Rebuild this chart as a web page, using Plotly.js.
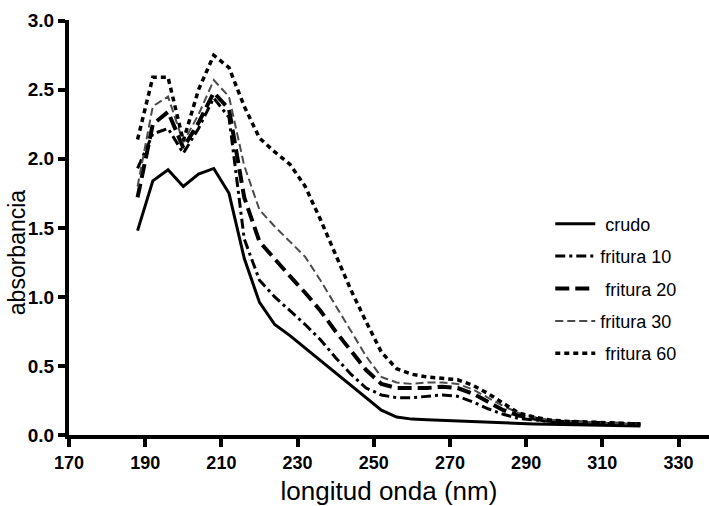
<!DOCTYPE html>
<html>
<head>
<meta charset="utf-8">
<script src="https://cdn.plot.ly/plotly-3.0.1.min.js"></script>
<style>html,body{margin:0;padding:0;background:#fff;}#chart{width:709px;height:506px;}</style>
</head>
<body>
<div id="chart"></div>
<script>
var wavelength = [188,192,196,200,204,208,212,216,220,224,228,232,236,240,244,248,252,256,260,264,268,272,276,280,284,288,292,296,300,304,308,312,316,320];
var crudo    = [1.48,1.84,1.92,1.80,1.89,1.93,1.75,1.28,0.96,0.80,0.72,0.63,0.54,0.45,0.36,0.27,0.18,0.13,0.115,0.11,0.105,0.10,0.10,0.095,0.09,0.085,0.08,0.078,0.075,0.073,0.07,0.068,0.066,0.065];
var fritura10 = [1.93,2.18,2.22,2.04,2.22,2.44,2.30,1.42,1.12,1.00,0.90,0.80,0.69,0.56,0.44,0.34,0.29,0.27,0.27,0.28,0.29,0.28,0.24,0.19,0.15,0.12,0.11,0.10,0.09,0.09,0.085,0.08,0.08,0.075];
var fritura20 = [1.72,2.25,2.34,2.08,2.26,2.48,2.36,1.72,1.40,1.27,1.15,1.03,0.90,0.75,0.61,0.47,0.37,0.34,0.34,0.34,0.35,0.34,0.30,0.24,0.18,0.14,0.12,0.10,0.095,0.09,0.088,0.085,0.08,0.078];
var fritura30 = [1.80,2.38,2.45,2.12,2.32,2.57,2.45,1.95,1.63,1.51,1.40,1.29,1.12,0.94,0.76,0.57,0.42,0.38,0.37,0.38,0.38,0.37,0.33,0.27,0.21,0.16,0.13,0.11,0.10,0.095,0.09,0.088,0.085,0.08];
var fritura60 = [2.14,2.59,2.59,2.13,2.50,2.75,2.66,2.38,2.15,2.05,1.96,1.80,1.56,1.30,1.05,0.82,0.60,0.48,0.44,0.42,0.41,0.40,0.36,0.30,0.23,0.16,0.13,0.11,0.10,0.095,0.09,0.09,0.085,0.08];
var seriesNames = ["\u00a0crudo", "fritura 10", "\u00a0fritura 20", "fritura 30", "\u00a0fritura 60"];
var xTicks = [170,190,210,230,250,270,290,310,330];
var yTicks = [0,0.5,1,1.5,2,2.5,3];

var font = "Liberation Sans, Arial, sans-serif";
var series = [crudo, fritura10, fritura20, fritura30, fritura60];
var styles = [
  {color:"#000", width:3, dash:"solid"},
  {color:"#000", width:3, dash:"10px,4px,3px,4px"},
  {color:"#000", width:4, dash:"14px,6px"},
  {color:"#4a4a4a", width:2, dash:"8px,4px"},
  {color:"#000", width:3.5, dash:"5px,4px"}
];
var traces = series.map(function(v,i){
  return {x: wavelength, y: v, type:"scatter", mode:"lines", name: seriesNames[i],
          legendgroup: "g"+i, line: styles[i]};
});

var layout = {
  width:709, height:506,
  margin:{l:69, r:0, t:20, b:71},
  paper_bgcolor:"#fff", plot_bgcolor:"#fff",
  font:{family:font, color:"#000"},
  showlegend:true,
  legend:{x:0.752, y:0.553, xanchor:"left", yanchor:"top", bgcolor:"rgba(0,0,0,0)",
          font:{size:18, family:font, color:"#000"}, traceorder:"grouped", tracegroupgap:6, itemwidth:40},
  xaxis:{range:[170,338], tickvals:xTicks, ticktext:xTicks.map(function(t){return "<b>"+t+"</b>";}), showgrid:false, zeroline:false,
         showline:true, linewidth:4, linecolor:"#000", ticks:"outside", ticklen:8, tickwidth:4, tickcolor:"#000",
         tickfont:{size:18, family:font, color:"#000", weight:"bold"},
         title:{text:"longitud onda (nm)", font:{size:26, family:font, color:"#000"}, standoff:12}},
  yaxis:{range:[0,3.005], tickvals:yTicks, ticktext:yTicks.map(function(t){return "<b>"+t.toFixed(1)+"</b>";}), showgrid:false, zeroline:false,
         showline:true, linewidth:4, linecolor:"#000", ticks:"outside", ticklen:7, tickwidth:4, tickcolor:"#000",
         tickfont:{size:19, family:font, color:"#000", weight:"bold"}},
  annotations:[{text:"absorbancia", xref:"paper", yref:"paper", x:-0.08, y:0.44, xanchor:"center", yanchor:"middle",
                textangle:-90, showarrow:false, font:{size:23, family:font, color:"#000"}}]
};
Plotly.newPlot("chart", traces, layout, {staticPlot:true}).then(function(){
  // Force style resolution and bake axis line/tick widths and bold weight into SVG attributes.
  var sel = '.xlines-above, .ylines-above, .xtick, .ytick, path.xtick, path.ytick';
  document.querySelectorAll(sel).forEach(function(el){
    var cs = getComputedStyle(el);
    el.setAttribute('stroke-width', cs.strokeWidth || '4px');
  });
  document.querySelectorAll('.xtick text, .ytick text, .xtick tspan, .ytick tspan').forEach(function(el){
    el.setAttribute('font-weight', 'bold');
    el.style.fontWeight = 'bold';
  });
  document.body.setAttribute('data-rendered', String(document.body.offsetHeight));
});
</script>
</body>
</html>
